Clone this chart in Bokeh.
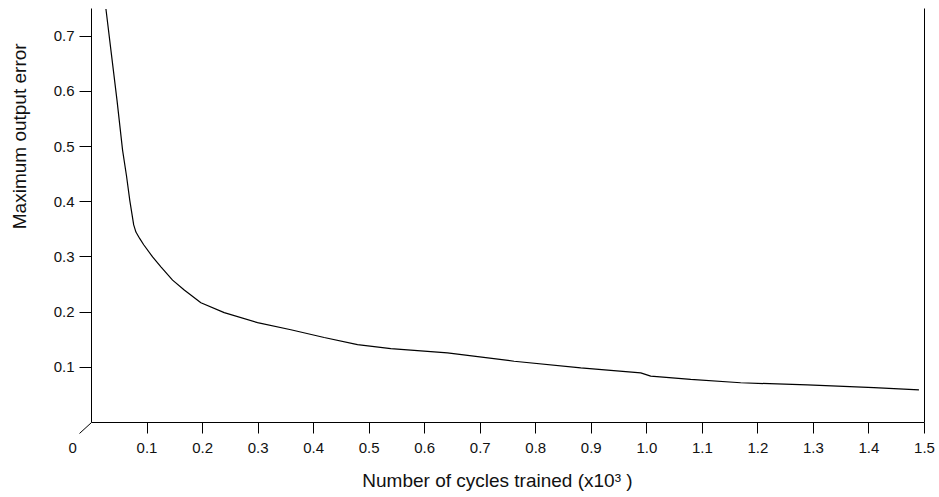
from bokeh.plotting import figure
from bokeh.models import LinearAxis, FixedTicker, Range1d, NumeralTickFormatter
from bokeh.embed import file_html
from bokeh.resources import INLINE

# data (x in thousands of cycles)
cycles = [0.026, 0.036, 0.046, 0.056, 0.063, 0.069, 0.076, 0.080, 0.087, 0.094,
          0.110, 0.125, 0.146, 0.167, 0.197, 0.239, 0.299, 0.359, 0.419, 0.479,
          0.539, 0.641, 0.761, 0.881, 0.989, 1.007, 1.079, 1.169, 1.289, 1.409, 1.490]
max_error = [0.749, 0.666, 0.583, 0.493, 0.447, 0.402, 0.358, 0.345, 0.333, 0.322,
             0.300, 0.282, 0.258, 0.240, 0.217, 0.199, 0.181, 0.168, 0.154, 0.141,
             0.134, 0.126, 0.111, 0.099, 0.090, 0.084, 0.078, 0.072, 0.068, 0.063, 0.059]
x_ticks = [0.1, 0.2, 0.3, 0.4, 0.5, 0.6, 0.7, 0.8, 0.9, 1.0, 1.1, 1.2, 1.3, 1.4, 1.5]
y_ticks = [0.1, 0.2, 0.3, 0.4, 0.5, 0.6, 0.7]
x_label = "Number of cycles trained (x10\u00b3 )"
y_label = "Maximum output error"
origin_label = "0"

FONT = "Liberation Sans"
NB = "\u00a0"

X_MAX, Y_MAX = 1.5, 0.75
FRAME_W, FRAME_H = 833, 415

p = figure(width=935, height=493, output_backend="svg", toolbar_location=None,
           x_range=Range1d(0, X_MAX), y_range=Range1d(0, Y_MAX),
           min_border_left=91, min_border_right=11, min_border_top=8, min_border_bottom=70,
           x_axis_location=None, y_axis_location=None)
p.outline_line_color = None
p.xgrid.visible = False
p.ygrid.visible = False
p.background_fill_color = "white"
p.border_fill_color = "white"

# x axis: labels on major ticks (incl. the shared origin "0"), visible tick marks drawn as minor ticks
xa = LinearAxis(ticker=FixedTicker(ticks=[0.0] + x_ticks, minor_ticks=x_ticks),
                formatter=NumeralTickFormatter(format="0.0"))
xa.major_label_overrides = {0: origin_label + NB * 9}
xa.axis_label = x_label + NB * 4
ya = LinearAxis(ticker=FixedTicker(ticks=y_ticks), formatter=NumeralTickFormatter(format="0.0"))
ya.axis_label = NB * 30 + y_label
ra = LinearAxis(ticker=FixedTicker(ticks=[]))
for ax in (xa, ya, ra):
    ax.axis_line_color = "black"
    ax.axis_line_width = 1
    ax.major_tick_line_color = "black"
    ax.major_tick_in = 0
    ax.minor_tick_line_color = None
    ax.major_label_text_font = FONT
    ax.major_label_text_font_size = "15px"
    ax.major_label_text_color = "#111111"
    ax.axis_label_text_font = FONT
    ax.axis_label_text_font_style = "normal"
    ax.axis_label_text_font_size = "19px"
    ax.axis_label_text_color = "#111111"
xa.major_tick_line_color = None
xa.major_tick_out = 11
xa.minor_tick_line_color = "black"
xa.minor_tick_in = 0
xa.minor_tick_out = 11
xa.major_label_standoff = 5
xa.axis_label_standoff = 11
ya.major_tick_out = 12
ya.major_label_standoff = 5
ya.axis_label_standoff = 21
ra.major_tick_out = 0
ra.major_label_text_font_size = "0px"

p.add_layout(xa, "below")
p.add_layout(ya, "left")
p.add_layout(ra, "right")

p.line(cycles, max_error, line_color="black", line_width=1.2)

# diagonal tick at the shared origin (12 px left, 11 px down), drawn outside the frame
dx = -12 * X_MAX / FRAME_W
dy = -11 * Y_MAX / FRAME_H
p.segment(x0=[0.0], y0=[0.0], x1=[dx], y1=[dy], line_color="black",
          line_width=1, level="overlay")

open("out.html", "w").write(file_html(p, INLINE))
